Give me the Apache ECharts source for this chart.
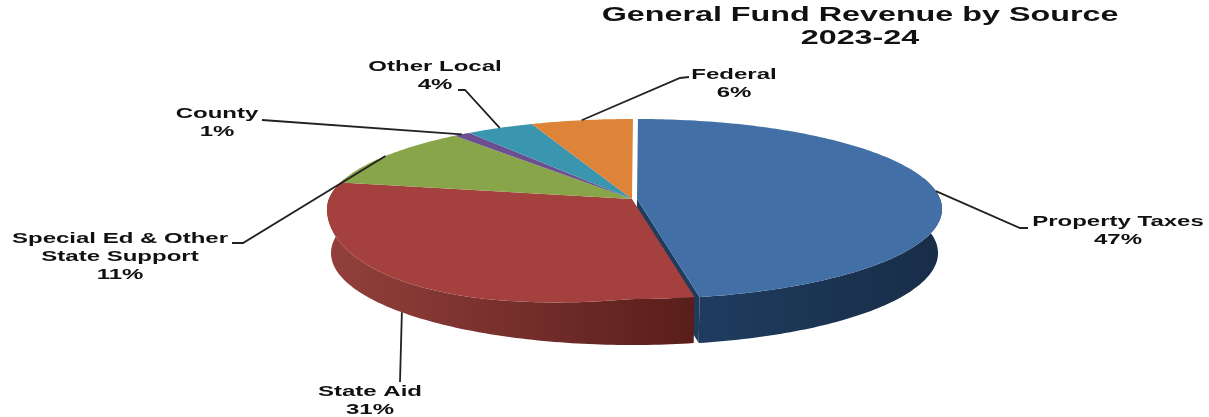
<!DOCTYPE html>
<html><head><meta charset="utf-8">
<style>html,body{margin:0;padding:0;background:#fff}#c{width:1209px;height:417px}</style>
<script src="https://cdn.jsdelivr.net/npm/echarts@6/dist/echarts.min.js"></script>
</head><body><div id="c"></div>
<script>
const titleLines = ['General Fund Revenue by Source', '2023-24'];
const categories = ['Property Taxes', 'State Aid', 'Special Ed & Other\nState Support', 'County', 'Other Local', 'Federal'];
const values = [47, 31, 11, 1, 4, 6];

// styles and layout, kept apart from the data
const topColors = ['#426fa5', '#a4403d', '#88a54a', '#6b4f90', '#3a96ae', '#dd8439'];
const wallStops = [['#1f3c5f', '#182d48'], ['#93403c', '#591e1b'], ['#6a803a', '#6a803a'], ['#53407a', '#53407a'], ['#2d7587', '#2d7587'], ['#ad672c', '#ad672c']];
const explodeX = [5, 0, 0, 0, 0, 0];
const labelCenters = [[1118, 222], [370, 392], [120, 239], [217, 114], [435, 67], [734, 75]];
const leaderTails = [[[1020, 228], [1028, 228]], [[400, 382]], [[243, 243], [232, 243]], [[262, 120]], [[465, 90], [458, 90]], [[680, 78], [689, 77]]];
const TOP = {cx: 632, cy: 209, rx: 305, ry: 90, bulge: 26};
const BASE = {cx: 632, cy: 253, rx: 301, ry: 92, bulge: 0};
const TILT = 0.11, START = 0.2 * Math.PI / 180, LABEL_STRETCH = 1.6, TITLE_STRETCH = 1.575, WALL_LIMIT = 0.35;
const total = values.reduce((a, b) => a + b, 0);

function fracBefore(i) { let s = 0; for (let k = 0; k < i; k++) s += values[k]; return s / total; }
// Perspective map from a pie fraction to the disc seen at an angle
function disc(f) {
  const t = 2 * Math.PI * f + START, u = Math.sin(t), v = Math.cos(t), d = 1 + TILT * v;
  return [u * Math.sqrt(1 - TILT * TILT) / d, (v + TILT) / d];
}
function onFace(face, f, dx) {
  const q = disc(f), sag = face.bulge * Math.max(0, -q[0]) * Math.max(0, -q[1]);
  return [face.cx + dx + face.rx * q[0], face.cy - face.ry * q[1] + sag];
}
function apex(face, dx) { return [face.cx + dx, face.cy - face.ry * TILT]; }
function fractions(f0, f1) {
  const n = Math.max(2, Math.ceil((f1 - f0) * 360)), out = [];
  for (let j = 0; j <= n; j++) out.push(f0 + (f1 - f0) * j / n);
  return out;
}
const noEvents = {silent: true, animation: false, coordinateSystem: 'none', tooltip: {show: false}};
const seriesData = categories.map((name, i) => ({name, value: values[i]}));

function renderWall(params, api) {
  const i = params.dataIndex, f0 = fracBefore(i), f1 = f0 + api.value(0) / total, dx = explodeX[i];
  const fs = fractions(f0, f1).filter(f => disc(f)[1] < WALL_LIMIT);
  const children = [];
  if (dx > 0) {
    children.push({type: 'polygon', shape: {points: [apex(TOP, dx), onFace(TOP, f1, dx), onFace(BASE, f1, dx), apex(BASE, dx)]},
      style: {fill: wallStops[i][0]}});
  }
  if (fs.length > 1) {
    const pts = fs.map(f => onFace(TOP, f, dx)).concat(fs.slice().reverse().map(f => onFace(BASE, f, dx)));
    children.push({type: 'polygon', shape: {points: pts},
      style: {fill: new echarts.graphic.LinearGradient(0, 0, 1, 0, [{offset: 0, color: wallStops[i][0]}, {offset: 1, color: wallStops[i][1]}])}});
  }
  return {type: 'group', children};
}
function renderTop(params, api) {
  const i = params.dataIndex, f0 = fracBefore(i), f1 = f0 + api.value(0) / total, dx = explodeX[i];
  return {type: 'polygon', shape: {points: [apex(TOP, dx)].concat(fractions(f0, f1).map(f => onFace(TOP, f, dx)))}, style: {fill: topColors[i]}};
}
function stretchedText(text, x, y, size, stretch) {
  return {type: 'text', x, y, scaleX: stretch, scaleY: 1,
    style: {text, fill: '#111', font: 'bold ' + size + 'px "Liberation Sans", Arial, sans-serif', align: 'center', verticalAlign: 'middle'}};
}
function renderLabel(params, api) {
  const i = params.dataIndex, v = api.value(0), f0 = fracBefore(i), mid = f0 + v / total / 2, dx = explodeX[i];
  const front = disc(mid)[1] < 0;
  const start = onFace(front ? BASE : TOP, mid, dx);
  const lines = categories[i].split('\n').concat(v + '%');
  const c = labelCenters[i];
  const children = [{type: 'polyline', shape: {points: [start].concat(leaderTails[i])}, style: {stroke: '#222', lineWidth: 1.8, fill: null}}];
  lines.forEach((t, k) => children.push(stretchedText(t, c[0], c[1] + k * 18, 15, LABEL_STRETCH)));
  return {type: 'group', children};
}

const chart = echarts.init(document.getElementById('c'), null, {renderer: 'canvas'});
chart.setOption({
  animation: false,
  backgroundColor: '#fff',
  graphic: titleLines.map((t, k) => Object.assign(stretchedText(t, 860, 15 + k * 23, 20.5, TITLE_STRETCH), {silent: true})),
  series: [
    Object.assign({type: 'custom', name: 'walls', z: 1, renderItem: renderWall, data: seriesData}, noEvents),
    Object.assign({type: 'custom', name: 'General Fund Revenue by Source', z: 2, renderItem: renderTop, data: seriesData}, noEvents),
    Object.assign({type: 'custom', name: 'labels', z: 3, renderItem: renderLabel, data: seriesData}, noEvents)
  ]
});
</script></body></html>
